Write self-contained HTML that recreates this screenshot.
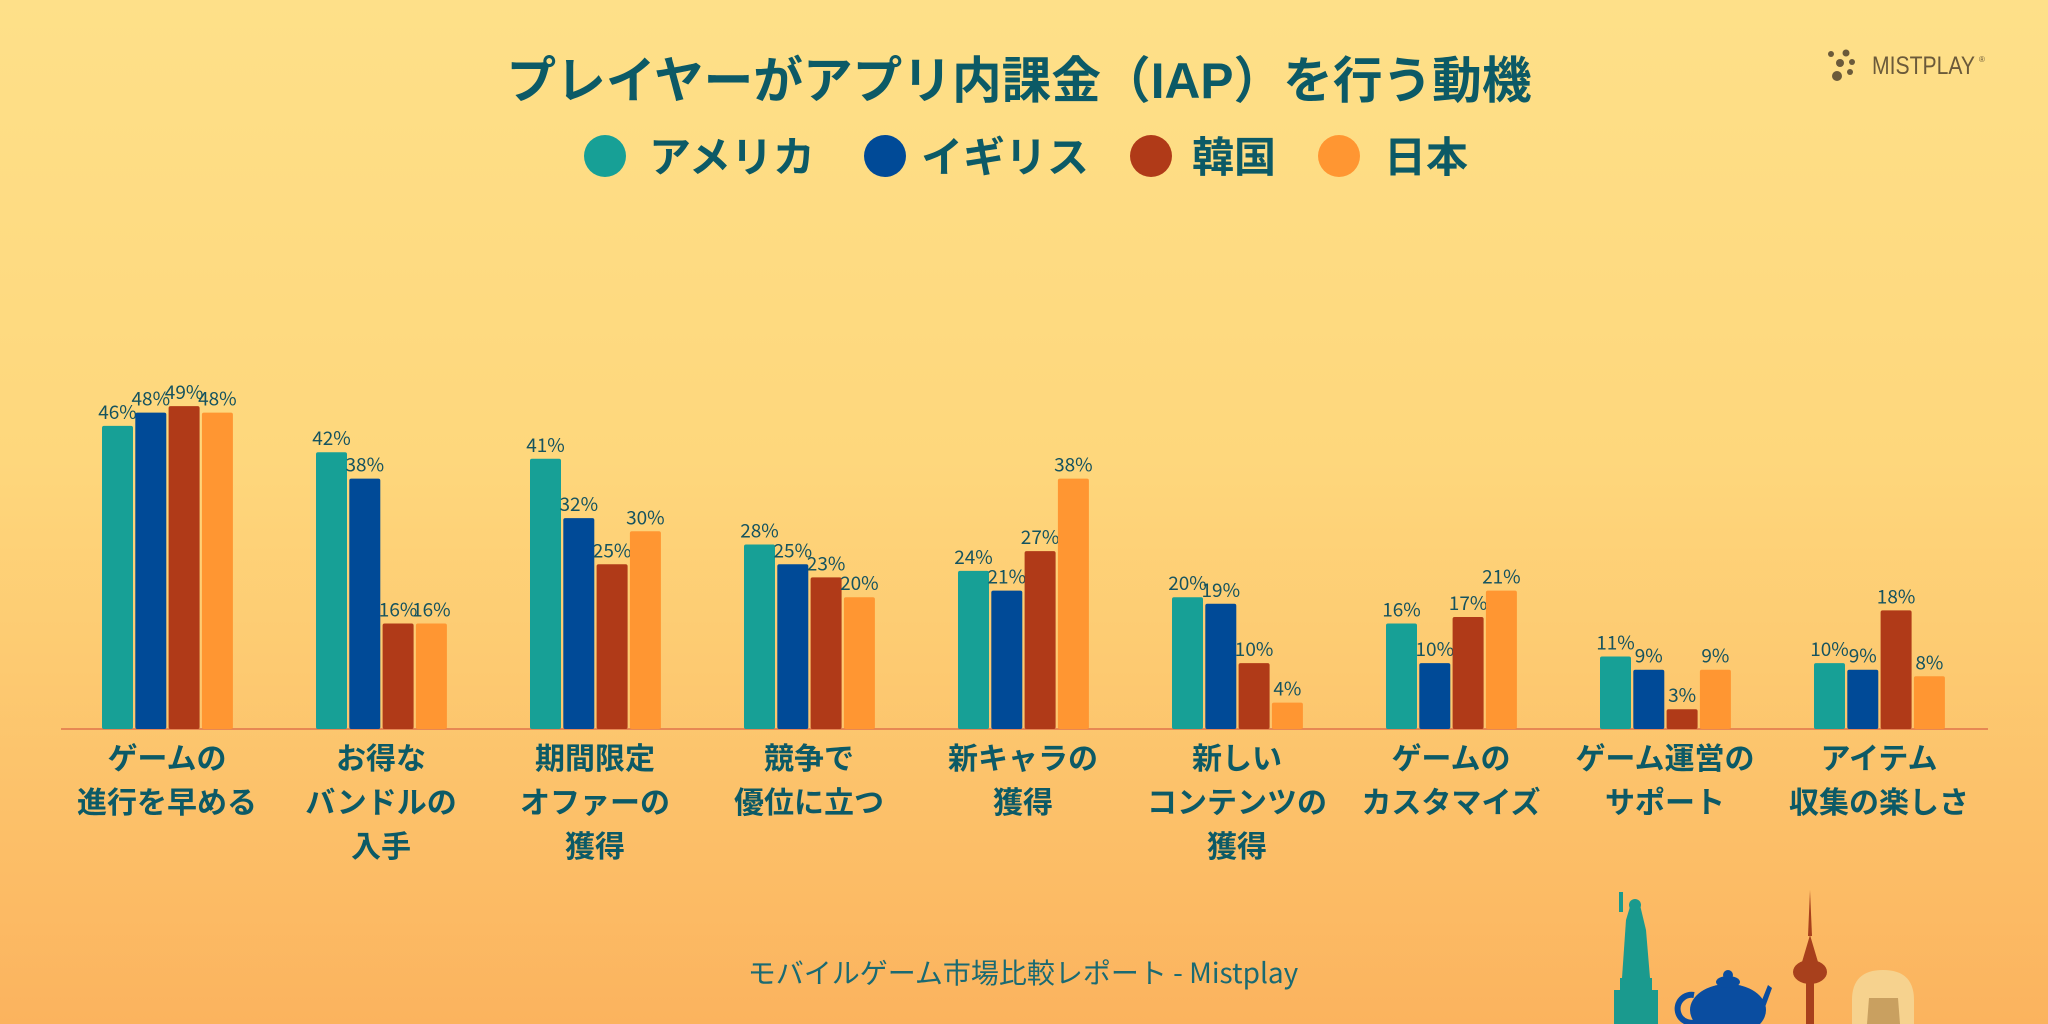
<!DOCTYPE html>
<html><head><meta charset="utf-8"><style>
html,body{margin:0;padding:0;width:2048px;height:1024px;overflow:hidden}
svg{display:block}
text{font-family:"Liberation Sans","Noto Sans CJK JP",sans-serif}
.n{font-family:"Noto Sans CJK JP","Liberation Sans",sans-serif}
</style></head><body>
<svg width="2048" height="1024" viewBox="0 0 2048 1024" xmlns="http://www.w3.org/2000/svg">
<defs>
<linearGradient id="bg" x1="0" y1="0" x2="0" y2="1">
<stop offset="0" stop-color="#fee089"/>
<stop offset="0.45" stop-color="#fed77c"/>
<stop offset="1" stop-color="#fbb35e"/>
</linearGradient>
</defs>
<rect width="2048" height="1024" fill="url(#bg)"/>
<text x="1019" y="98" text-anchor="middle" font-size="50" font-weight="bold" fill="#0c5a66" textLength="1025" lengthAdjust="spacingAndGlyphs">プレイヤーがアプリ内課金（IAP）を行う動機</text>
<g font-size="42" font-weight="bold" fill="#0c5a66">
<circle cx="605" cy="156" r="21" fill="#17a096"/><text x="649" y="172">アメリカ</text>
<circle cx="885" cy="156" r="21" fill="#004a97"/><text x="921" y="172">イギリス</text>
<circle cx="1151" cy="156" r="21" fill="#b03a18"/><text x="1192" y="172">韓国</text>
<circle cx="1339" cy="156" r="21" fill="#ff9632"/><text x="1384" y="172">日本</text>
</g>
<g fill="#6b5a3a">
<circle cx="1831" cy="54" r="3"/><circle cx="1846" cy="53" r="3.5"/><circle cx="1840" cy="63" r="4"/><circle cx="1852" cy="62" r="3"/><circle cx="1837" cy="76" r="5"/><circle cx="1850" cy="72" r="3"/>
<text x="1872" y="74" font-size="25" fill="#6b5a3a" textLength="103" lengthAdjust="spacingAndGlyphs">MISTPLAY</text>
<text x="1979" y="62" font-size="8">®</text>
</g>
<line x1="61" y1="729" x2="1988" y2="729" stroke="#e0744a" stroke-width="1.5"/>
<g id="bars"></g>
<text class="n" x="1023" y="983" text-anchor="middle" font-size="28" fill="#1a6a72">モバイルゲーム市場比較レポート - Mistplay</text>
<g>
<rect x="1614" y="990" width="44" height="34" fill="#1a9a8e"/>
<rect x="1620" y="978" width="32" height="14" fill="#1a9a8e"/>
<path d="M1622 978 L1626 920 L1632 900 L1640 905 L1646 930 L1650 978Z" fill="#1a9a8e"/>
<rect x="1619" y="892" width="4" height="20" fill="#1a9a8e"/>
<circle cx="1635" cy="905" r="6" fill="#1a9a8e"/>
<ellipse cx="1728" cy="1010" rx="38" ry="26" fill="#0a4da0"/>
<ellipse cx="1728" cy="982" rx="12" ry="6" fill="#0a4da0"/><circle cx="1728" cy="975" r="5" fill="#0a4da0"/>
<path d="M1762 1000 L1768 985 L1772 988 L1764 1010Z" fill="#0a4da0"/>
<path d="M1694 995 a14 14 0 1 0 6 25" fill="none" stroke="#0a4da0" stroke-width="6"/>
<rect x="1806" y="980" width="8" height="44" fill="#a8401c"/>
<ellipse cx="1810" cy="972" rx="17" ry="12" fill="#a8401c"/>
<path d="M1802 962 L1810 935 L1818 962Z" fill="#a8401c"/>
<path d="M1808 936 L1810 890 L1812 936Z" fill="#a8401c"/>
<path d="M1852 1024 L1852 1000 Q1852 970 1883 970 Q1914 970 1914 1000 L1914 1024Z" fill="#f6d28e"/>
<path d="M1867 1024 L1869 998 L1898 998 L1900 1024Z" fill="#c9a060"/>
</g>
</svg>
<script>
const us=[46,42,41,28,24,20,16,11,10],uk=[48,38,32,25,21,19,10,9,9],kr=[49,16,25,23,27,10,17,3,18],jp=[48,16,30,20,38,4,21,9,8];
const cols=["#17a096","#004a97","#b03a18","#ff9632"];
const labels=[["ゲームの","進行を早める"],["お得な","バンドルの","入手"],["期間限定","オファーの","獲得"],["競争で","優位に立つ"],["新キャラの","獲得"],["新しい","コンテンツの","獲得"],["ゲームの","カスタマイズ"],["ゲーム運営の","サポート"],["アイテム","収集の楽しさ"]];
let s="";const base=729,k=6.59;
for(let g=0;g<9;g++){const c=167+214*g;const vals=[us[g],uk[g],kr[g],jp[g]];
for(let i=0;i<4;i++){const x=c-65+i*33.3,h=vals[i]*k,y=base-h;
s+=`<rect x="${x}" y="${y}" width="31" height="${h}" rx="2" fill="${cols[i]}"/>`;
s+=`<text class="n" x="${x+15.5}" y="${y-7}" text-anchor="middle" font-size="19" fill="#15535f">${vals[i]}%</text>`;}
labels[g].forEach((t,j)=>{s+=`<text x="${c}" y="${769+j*44}" text-anchor="middle" font-size="30" font-weight="bold" fill="#0c5a66">${t}</text>`;});}
document.getElementById("bars").innerHTML=s;
</script>
</body></html>
